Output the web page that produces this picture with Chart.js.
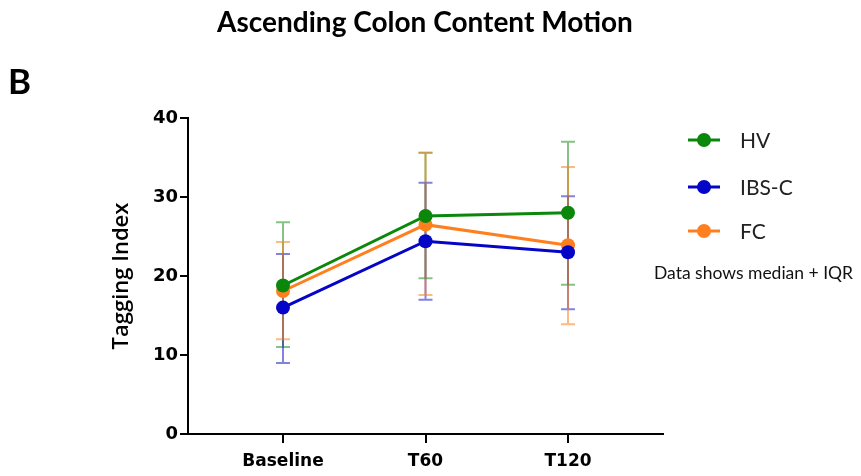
<!DOCTYPE html>
<html>
<head>
<meta charset="utf-8">
<title>Ascending Colon Content Motion</title>
<script src="https://cdn.jsdelivr.net/npm/chart.js@4.4.1/dist/chart.umd.min.js"></script>
<style>
  html, body { margin: 0; padding: 0; background: #fff; }
  #wrap { width: 861px; height: 476px; }
</style>
</head>
<body>
<div id="wrap"><canvas id="motionChart" width="861" height="476"></canvas></div>
<script>
// Tagging index, median with IQR, per group and time point
const categories = ['Baseline', 'T60', 'T120'];
const yTicks = [0, 10, 20, 30, 40];

const hvMedian = [18.8, 27.6, 28.0];
const hvQ1 = [11.0, 19.7, 18.9];
const hvQ3 = [26.8, 35.6, 37.0];

const ibsMedian = [16.0, 24.4, 23.0];
const ibsQ1 = [9.0, 17.0, 15.8];
const ibsQ3 = [22.8, 31.8, 30.1];

const fcMedian = [18.1, 26.5, 23.9];
const fcQ1 = [12.0, 17.6, 13.9];
const fcQ3 = [24.3, 35.6, 33.8];

const groups = [
  { label: 'HV', median: hvMedian, q1: hvQ1, q3: hvQ3, color: '#0b870b', bar: 'rgba(11,135,11,0.5)' },
  { label: 'IBS-C', median: ibsMedian, q1: ibsQ1, q3: ibsQ3, color: '#0505c8', bar: 'rgba(5,5,200,0.5)' },
  { label: 'FC', median: fcMedian, q1: fcQ1, q3: fcQ3, color: '#ff7f1e', bar: 'rgba(255,127,30,0.55)' }
];

const boldFont = 'DejaVu Sans';

// IQR whiskers behind the lines
const iqrBars = {
  id: 'iqrBars',
  beforeDatasetsDraw(chart) {
    const { ctx, scales: { x, y } } = chart;
    ctx.save();
    ctx.lineWidth = 2;
    chart.data.datasets.forEach(ds => {
      ctx.strokeStyle = ds.barColor;
      ds.q1.forEach((lo, i) => {
        const px = x.getPixelForValue(i);
        const yLo = y.getPixelForValue(lo);
        const yHi = y.getPixelForValue(ds.q3[i]);
        ctx.beginPath();
        ctx.moveTo(px, yLo);
        ctx.lineTo(px, yHi);
        ctx.moveTo(px - 7, yLo);
        ctx.lineTo(px + 7, yLo);
        ctx.moveTo(px - 7, yHi);
        ctx.lineTo(px + 7, yHi);
        ctx.stroke();
      });
    });
    ctx.restore();
  }
};

// Title, panel letter, legend and note
const decorations = {
  id: 'decorations',
  afterDraw(chart) {
    const ctx = chart.ctx;
    ctx.save();
    ctx.fillStyle = '#000';
    ctx.textBaseline = 'middle';

    ctx.font = 'bold 28px Lato';
    ctx.textAlign = 'center';
    ctx.fillText('Ascending Colon Content Motion', 425, 23);

    ctx.font = 'bold 35px Lato';
    ctx.textAlign = 'left';
    ctx.fillText('B', 8, 83);

    const legendY = [140, 187, 231];
    chart.data.datasets.forEach((ds, i) => {
      const ly = legendY[i];
      ctx.strokeStyle = ds.borderColor;
      ctx.lineWidth = 3;
      ctx.beginPath();
      ctx.moveTo(688, ly);
      ctx.lineTo(720, ly);
      ctx.stroke();
      ctx.fillStyle = ds.borderColor;
      ctx.beginPath();
      ctx.arc(704, ly, 7, 0, Math.PI * 2);
      ctx.fill();
      ctx.fillStyle = '#222';
      ctx.font = '21px Lato';
      ctx.fillText(ds.label, 740, ly + 1);
    });

    ctx.fillStyle = '#111';
    ctx.font = '17.5px Lato';
    ctx.fillText('Data shows median + IQR', 654, 273);
    ctx.restore();
  }
};

const ctx = document.getElementById('motionChart').getContext('2d');
const motionChart = new Chart(ctx, {
  type: 'line',
  data: {
    datasets: groups.map(g => ({
      label: g.label,
      data: g.median.map((v, i) => ({ x: i, y: v })),
      q1: g.q1,
      q3: g.q3,
      barColor: g.bar,
      borderColor: g.color,
      backgroundColor: g.color,
      borderWidth: 3,
      pointRadius: 7,
      pointBorderWidth: 0,
      pointBackgroundColor: g.color,
      tension: 0
    }))
  },
  options: {
    responsive: false,
    animation: false,
    layout: { padding: { left: 0, top: 118, right: 198, bottom: 0 } },
    plugins: {
      legend: { display: false },
      tooltip: { enabled: false }
    },
    scales: {
      x: {
        type: 'linear',
        min: -2 / 3,
        max: 8 / 3,
        afterBuildTicks: s => { s.ticks = categories.map((c, i) => ({ value: i })); },
        afterFit: s => { s.height = 42; },
        ticks: {
          callback: v => categories[v],
          color: '#000',
          padding: 8,
          maxRotation: 0,
          font: { family: boldFont, weight: 'bold', size: 17 }
        },
        grid: { drawOnChartArea: false, drawTicks: true, tickLength: 9, color: '#000', lineWidth: 2 },
        border: { color: '#000', width: 2 }
      },
      y: {
        min: 0,
        max: 40,
        afterBuildTicks: s => { s.ticks = yTicks.map(v => ({ value: v })); },
        afterFit: s => { s.width = 188; },
        ticks: {
          color: '#000',
          padding: 2,
          font: { family: boldFont, weight: 'bold', size: 18 }
        },
        grid: { drawOnChartArea: false, drawTicks: true, tickLength: 8, color: '#000', lineWidth: 2 },
        border: { color: '#000', width: 2 },
        title: {
          display: true,
          text: 'Tagging Index',
          color: '#000',
          padding: { top: 109, bottom: 0 },
          font: { family: 'Open Sans', weight: '600', size: 22 }
        }
      }
    }
  },
  plugins: [iqrBars, decorations]
});
</script>
</body>
</html>
